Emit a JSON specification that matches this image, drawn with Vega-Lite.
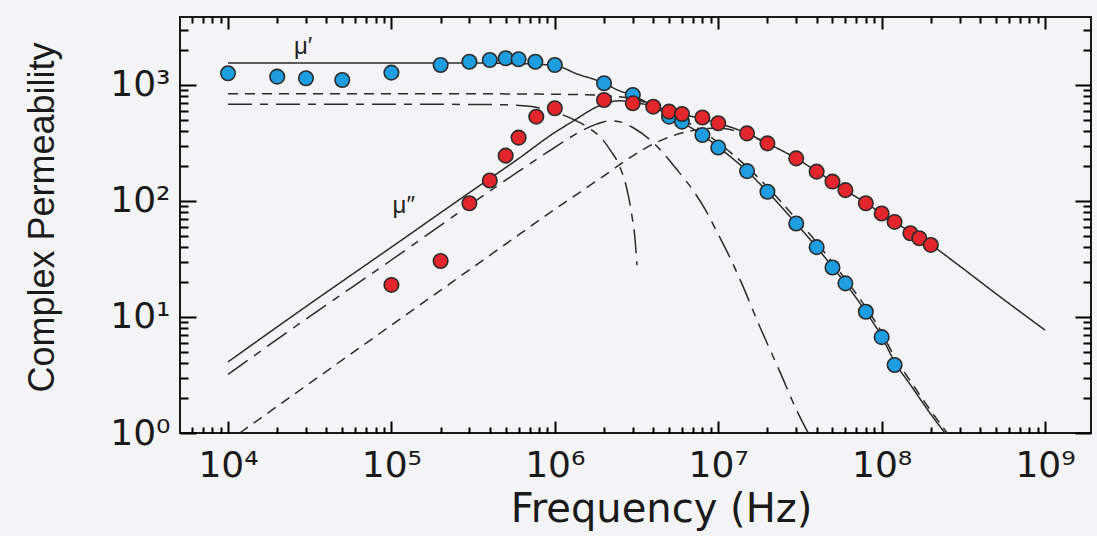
{
  "$schema": "https://vega.github.io/schema/vega-lite/v6.json",
  "width": 911,
  "height": 416,
  "autosize": {"type": "none"},
  "padding": {"left": 180, "top": 17, "right": 6, "bottom": 103},
  "background": "#f4f4f6",
  "config": {
    "view": {"stroke": "#1a1a1a", "strokeWidth": 2}
  },
  "datasets": {
    "curves": [
      {"s": "m1t", "f": 1e4, "v": 1550}, {"s": "m1t", "f": 3e4, "v": 1550}, {"s": "m1t", "f": 1e5, "v": 1550},
      {"s": "m1t", "f": 3e5, "v": 1548}, {"s": "m1t", "f": 6e5, "v": 1530}, {"s": "m1t", "f": 1e6, "v": 1470},
      {"s": "m1t", "f": 1.4e6, "v": 1230}, {"s": "m1t", "f": 1.8e6, "v": 1100}, {"s": "m1t", "f": 2e6, "v": 1035},
      {"s": "m1t", "f": 2.4e6, "v": 910}, {"s": "m1t", "f": 3e6, "v": 810}, {"s": "m1t", "f": 4e6, "v": 660},
      {"s": "m1t", "f": 5e6, "v": 545}, {"s": "m1t", "f": 6e6, "v": 475}, {"s": "m1t", "f": 8e6, "v": 370},
      {"s": "m1t", "f": 1e7, "v": 292}, {"s": "m1t", "f": 1.5e7, "v": 181}, {"s": "m1t", "f": 2e7, "v": 120},
      {"s": "m1t", "f": 3e7, "v": 64}, {"s": "m1t", "f": 4e7, "v": 40}, {"s": "m1t", "f": 5e7, "v": 27},
      {"s": "m1t", "f": 6e7, "v": 19.5}, {"s": "m1t", "f": 8e7, "v": 11.1}, {"s": "m1t", "f": 1e8, "v": 6.8},
      {"s": "m1t", "f": 1.2e8, "v": 4.1}, {"s": "m1t", "f": 1.5e8, "v": 2.6}, {"s": "m1t", "f": 2e8, "v": 1.45},
      {"s": "m1t", "f": 2.44e8, "v": 1.0},

      {"s": "m1s", "f": 1e4, "v": 840}, {"s": "m1s", "f": 1e5, "v": 840}, {"s": "m1s", "f": 5e5, "v": 838},
      {"s": "m1s", "f": 1e6, "v": 832}, {"s": "m1s", "f": 1.5e6, "v": 825}, {"s": "m1s", "f": 2e6, "v": 810},
      {"s": "m1s", "f": 2.5e6, "v": 790}, {"s": "m1s", "f": 3e6, "v": 765}, {"s": "m1s", "f": 3.5e6, "v": 715},
      {"s": "m1s", "f": 4e6, "v": 665}, {"s": "m1s", "f": 5e6, "v": 575}, {"s": "m1s", "f": 6e6, "v": 505},
      {"s": "m1s", "f": 8e6, "v": 400}, {"s": "m1s", "f": 1e7, "v": 318}, {"s": "m1s", "f": 1.5e7, "v": 197},
      {"s": "m1s", "f": 2e7, "v": 132}, {"s": "m1s", "f": 3e7, "v": 70}, {"s": "m1s", "f": 4e7, "v": 44},
      {"s": "m1s", "f": 5e7, "v": 29.5}, {"s": "m1s", "f": 6e7, "v": 21.2}, {"s": "m1s", "f": 8e7, "v": 12.1},
      {"s": "m1s", "f": 1e8, "v": 7.4}, {"s": "m1s", "f": 1.2e8, "v": 4.5}, {"s": "m1s", "f": 1.5e8, "v": 2.8},
      {"s": "m1s", "f": 2e8, "v": 1.55}, {"s": "m1s", "f": 2.52e8, "v": 1.0},

      {"s": "m1d", "f": 1e4, "v": 682}, {"s": "m1d", "f": 1e5, "v": 682}, {"s": "m1d", "f": 3e5, "v": 680},
      {"s": "m1d", "f": 5e5, "v": 674}, {"s": "m1d", "f": 7e5, "v": 655}, {"s": "m1d", "f": 9e5, "v": 610},
      {"s": "m1d", "f": 1.24e6, "v": 520}, {"s": "m1d", "f": 1.6e6, "v": 430}, {"s": "m1d", "f": 1.97e6, "v": 336},
      {"s": "m1d", "f": 2.2e6, "v": 270}, {"s": "m1d", "f": 2.45e6, "v": 210}, {"s": "m1d", "f": 2.77e6, "v": 124},
      {"s": "m1d", "f": 2.97e6, "v": 73}, {"s": "m1d", "f": 3.1e6, "v": 46}, {"s": "m1d", "f": 3.18e6, "v": 28},

      {"s": "m2t", "f": 1e4, "v": 4.1}, {"s": "m2t", "f": 3e4, "v": 12.3}, {"s": "m2t", "f": 1e5, "v": 40},
      {"s": "m2t", "f": 3e5, "v": 118}, {"s": "m2t", "f": 6e5, "v": 232}, {"s": "m2t", "f": 1e6, "v": 390},
      {"s": "m2t", "f": 1.3e6, "v": 490}, {"s": "m2t", "f": 1.7e6, "v": 620}, {"s": "m2t", "f": 2.1e6, "v": 705},
      {"s": "m2t", "f": 2.5e6, "v": 730}, {"s": "m2t", "f": 3e6, "v": 712}, {"s": "m2t", "f": 4e6, "v": 655},
      {"s": "m2t", "f": 5e6, "v": 600}, {"s": "m2t", "f": 6e6, "v": 560}, {"s": "m2t", "f": 8e6, "v": 510},
      {"s": "m2t", "f": 1e7, "v": 468}, {"s": "m2t", "f": 1.5e7, "v": 383}, {"s": "m2t", "f": 2e7, "v": 314},
      {"s": "m2t", "f": 3e7, "v": 233}, {"s": "m2t", "f": 4e7, "v": 180}, {"s": "m2t", "f": 5e7, "v": 147},
      {"s": "m2t", "f": 6e7, "v": 124}, {"s": "m2t", "f": 8e7, "v": 96}, {"s": "m2t", "f": 1e8, "v": 78},
      {"s": "m2t", "f": 1.5e8, "v": 54}, {"s": "m2t", "f": 2e8, "v": 42}, {"s": "m2t", "f": 3e8, "v": 27.5},
      {"s": "m2t", "f": 5e8, "v": 15.9}, {"s": "m2t", "f": 1e9, "v": 7.7},

      {"s": "m2d", "f": 1e4, "v": 3.2}, {"s": "m2d", "f": 3e4, "v": 9.6}, {"s": "m2d", "f": 1e5, "v": 31},
      {"s": "m2d", "f": 3e5, "v": 92}, {"s": "m2d", "f": 6e5, "v": 180}, {"s": "m2d", "f": 1e6, "v": 290},
      {"s": "m2d", "f": 1.4e6, "v": 390}, {"s": "m2d", "f": 1.8e6, "v": 460}, {"s": "m2d", "f": 2.2e6, "v": 490},
      {"s": "m2d", "f": 2.6e6, "v": 475}, {"s": "m2d", "f": 3e6, "v": 430}, {"s": "m2d", "f": 3.8e6, "v": 340},
      {"s": "m2d", "f": 4.6e6, "v": 259}, {"s": "m2d", "f": 5.7e6, "v": 180}, {"s": "m2d", "f": 7e6, "v": 124},
      {"s": "m2d", "f": 8.3e6, "v": 85}, {"s": "m2d", "f": 9.7e6, "v": 56}, {"s": "m2d", "f": 1.15e7, "v": 35},
      {"s": "m2d", "f": 1.36e7, "v": 21}, {"s": "m2d", "f": 1.8e7, "v": 8.2}, {"s": "m2d", "f": 2.4e7, "v": 3.3},
      {"s": "m2d", "f": 3e7, "v": 1.6}, {"s": "m2d", "f": 3.55e7, "v": 1.0},

      {"s": "m2s", "f": 1.18e4, "v": 1.0}, {"s": "m2s", "f": 3e4, "v": 2.55}, {"s": "m2s", "f": 1e5, "v": 8.5},
      {"s": "m2s", "f": 3e5, "v": 25.5}, {"s": "m2s", "f": 6e5, "v": 51}, {"s": "m2s", "f": 1e6, "v": 85},
      {"s": "m2s", "f": 1.5e6, "v": 125}, {"s": "m2s", "f": 2e6, "v": 165}, {"s": "m2s", "f": 3e6, "v": 245},
      {"s": "m2s", "f": 4e6, "v": 310}, {"s": "m2s", "f": 5e6, "v": 355}, {"s": "m2s", "f": 6.4e6, "v": 395},
      {"s": "m2s", "f": 8e6, "v": 418}, {"s": "m2s", "f": 1e7, "v": 425}, {"s": "m2s", "f": 1.3e7, "v": 400},
      {"s": "m2s", "f": 1.6e7, "v": 362}, {"s": "m2s", "f": 2e7, "v": 308}
    ],
    "pts": [
      {"p": "mu1", "f": 1e4, "v": 1262}, {"p": "mu1", "f": 2e4, "v": 1180}, {"p": "mu1", "f": 3e4, "v": 1143},
      {"p": "mu1", "f": 5e4, "v": 1105}, {"p": "mu1", "f": 1e5, "v": 1277}, {"p": "mu1", "f": 2e5, "v": 1487},
      {"p": "mu1", "f": 3e5, "v": 1585}, {"p": "mu1", "f": 4e5, "v": 1644}, {"p": "mu1", "f": 5e5, "v": 1700},
      {"p": "mu1", "f": 6e5, "v": 1667}, {"p": "mu1", "f": 7.6e5, "v": 1585}, {"p": "mu1", "f": 1e6, "v": 1487},
      {"p": "mu1", "f": 2e6, "v": 1035}, {"p": "mu1", "f": 3e6, "v": 820}, {"p": "mu1", "f": 5e6, "v": 533},
      {"p": "mu1", "f": 6e6, "v": 483}, {"p": "mu1", "f": 8e6, "v": 371}, {"p": "mu1", "f": 1e7, "v": 289},
      {"p": "mu1", "f": 1.5e7, "v": 181}, {"p": "mu1", "f": 2e7, "v": 120}, {"p": "mu1", "f": 3e7, "v": 64},
      {"p": "mu1", "f": 4e7, "v": 40}, {"p": "mu1", "f": 5e7, "v": 26.7}, {"p": "mu1", "f": 6e7, "v": 19.5},
      {"p": "mu1", "f": 8e7, "v": 11.1}, {"p": "mu1", "f": 1e8, "v": 6.7}, {"p": "mu1", "f": 1.2e8, "v": 3.86},
      {"p": "mu2", "f": 1e5, "v": 18.9}, {"p": "mu2", "f": 2e5, "v": 30.4}, {"p": "mu2", "f": 3e5, "v": 95.5},
      {"p": "mu2", "f": 4e5, "v": 150}, {"p": "mu2", "f": 5e5, "v": 246}, {"p": "mu2", "f": 6e5, "v": 352},
      {"p": "mu2", "f": 7.7e5, "v": 533}, {"p": "mu2", "f": 1e6, "v": 630}, {"p": "mu2", "f": 2e6, "v": 743},
      {"p": "mu2", "f": 3e6, "v": 695}, {"p": "mu2", "f": 4e6, "v": 650}, {"p": "mu2", "f": 5e6, "v": 589},
      {"p": "mu2", "f": 6e6, "v": 562}, {"p": "mu2", "f": 8e6, "v": 525}, {"p": "mu2", "f": 1e7, "v": 468},
      {"p": "mu2", "f": 1.5e7, "v": 383}, {"p": "mu2", "f": 2e7, "v": 314}, {"p": "mu2", "f": 3e7, "v": 233},
      {"p": "mu2", "f": 4e7, "v": 179}, {"p": "mu2", "f": 5e7, "v": 147}, {"p": "mu2", "f": 6e7, "v": 124},
      {"p": "mu2", "f": 8e7, "v": 95.5}, {"p": "mu2", "f": 1e8, "v": 78}, {"p": "mu2", "f": 1.2e8, "v": 66},
      {"p": "mu2", "f": 1.5e8, "v": 52.7}, {"p": "mu2", "f": 1.7e8, "v": 47.7}, {"p": "mu2", "f": 2e8, "v": 41.8}
    ],
    "labels": [
      {"f": 2.88e4, "v": 2128, "t": "μ′"},
      {"f": 1.19e5, "v": 90.5, "t": "μ″"}
    ]
  },
  "layer": [
    {
      "data": {"name": "curves"},
      "mark": {"type": "line", "strokeWidth": 1.5, "color": "#2a2a2a", "interpolate": "monotone", "clip": true},
      "encoding": {
        "x": {
          "field": "f", "type": "quantitative",
          "scale": {"type": "log", "domain": [5084, 1.91e9], "nice": false},
          "axis": {
            "orient": "bottom", "offset": -12,
            "values": [10000, 100000, 1000000, 10000000, 100000000, 1000000000],
            "labelExpr": "'10' + ['⁰','¹','²','³','⁴','⁵','⁶','⁷','⁸','⁹'][round(log(datum.value)/LN10)]",
            "ticks": true, "tickSize": 12, "tickOpacity": 1,
            "tickColor": "black", "tickWidth": 2, "domain": false, "grid": false,
            "labelFont": "DejaVu Sans", "labelFontSize": 36, "labelColor": "#1a1a1a", "labelPadding": 15,
            "labelFlush": false, "labelOverlap": false,
            "title": "Frequency (Hz)", "titleFont": "DejaVu Sans", "titleFontSize": 40, "titleFontWeight": "normal",
            "titleColor": "#1a1a1a", "titlePadding": 6, "titleX": 481
          }
        },
        "y": {
          "field": "v", "type": "quantitative",
          "scale": {"type": "log", "domain": [1, 3855], "nice": false},
          "axis": {
            "orient": "left", "offset": -16,
            "values": [1, 10, 100, 1000],
            "labelExpr": "'10' + ['⁰','¹','²','³','⁴','⁵','⁶','⁷','⁸','⁹'][round(log(datum.value)/LN10)]",
            "ticks": true, "tickSize": 16, "tickOpacity": 1,
            "tickColor": "black", "tickWidth": 2, "domain": false, "grid": false,
            "labelFont": "DejaVu Sans", "labelFontSize": 36, "labelColor": "#1a1a1a", "labelPadding": 10,
            "labelFlush": false, "labelOverlap": false,
            "title": "Complex Permeability", "titleFont": "Liberation Sans", "titleFontSize": 36, "titleFontWeight": "normal",
            "titleColor": "#1a1a1a", "titlePadding": 48, "titleY": 200
          }
        },
        "strokeDash": {
          "field": "s", "type": "nominal",
          "scale": {"domain": ["m1t", "m1s", "m1d", "m2t", "m2d", "m2s"], "range": [[1, 0], [10, 7], [24, 8, 8, 8], [1, 0], [24, 8, 8, 8], [10, 7]]},
          "legend": null
        }
      }
    },
    {
      "data": {"name": "pts"},
      "mark": {"type": "point", "filled": true, "size": 210, "stroke": "#2b2b2b", "strokeWidth": 1.6, "opacity": 1},
      "encoding": {
        "x": {"field": "f", "type": "quantitative", "axis": null},
        "y": {"field": "v", "type": "quantitative", "axis": null},
        "fill": {"field": "p", "type": "nominal", "scale": {"domain": ["mu1", "mu2"], "range": ["#1e9ee0", "#e3262b"]}, "legend": null}
      }
    },
    {
      "data": {"name": "labels"},
      "mark": {"type": "text", "font": "Liberation Sans", "fontSize": 24, "color": "#222222"},
      "encoding": {
        "x": {"field": "f", "type": "quantitative", "axis": null},
        "y": {"field": "v", "type": "quantitative", "axis": null},
        "text": {"field": "t"}
      }
    },
    {
      "data": {"name": "pts"},
      "mark": {"type": "point", "opacity": 0},
      "encoding": {
        "x": {
          "field": "f", "type": "quantitative",
          "axis": {
            "orient": "top", "offset": -12,
            "values": [10000, 100000, 1000000, 10000000, 100000000, 1000000000],
            "labels": false, "title": null, "domain": false, "grid": false,
            "ticks": true, "tickSize": 12, "tickColor": "black", "tickWidth": 2, "tickOpacity": 1
          }
        },
        "y": {
          "field": "v", "type": "quantitative",
          "axis": {
            "orient": "right", "offset": -16,
            "values": [1, 10, 100, 1000],
            "labels": false, "title": null, "domain": false, "grid": false,
            "ticks": true, "tickSize": 16, "tickColor": "black", "tickWidth": 2, "tickOpacity": 1
          }
        }
      }
    },
    {
      "data": {"name": "pts"},
      "mark": {"type": "point", "opacity": 0},
      "encoding": {
        "x": {
          "field": "f", "type": "quantitative",
          "axis": {
            "orient": "bottom", "offset": -6,
            "values": [6000, 7000, 8000, 9000, 20000, 30000, 40000, 50000, 60000, 70000, 80000, 90000, 200000, 300000, 400000, 500000, 600000, 700000, 800000, 900000, 2000000, 3000000, 4000000, 5000000, 6000000, 7000000, 8000000, 9000000, 20000000, 30000000, 40000000, 50000000, 60000000, 70000000, 80000000, 90000000, 200000000, 300000000, 400000000, 500000000, 600000000, 700000000, 800000000, 900000000],
            "labels": false, "title": null, "domain": false, "grid": false,
            "ticks": true, "tickSize": 6, "tickColor": "black", "tickWidth": 2, "tickOpacity": 1
          }
        },
        "y": {
          "field": "v", "type": "quantitative",
          "axis": {
            "orient": "left", "offset": -8,
            "values": [2, 3, 4, 5, 6, 7, 8, 9, 20, 30, 40, 50, 60, 70, 80, 90, 200, 300, 400, 500, 600, 700, 800, 900, 2000, 3000],
            "labels": false, "title": null, "domain": false, "grid": false,
            "ticks": true, "tickSize": 8, "tickColor": "black", "tickWidth": 2, "tickOpacity": 1
          }
        }
      }
    },
    {
      "data": {"name": "pts"},
      "mark": {"type": "point", "opacity": 0},
      "encoding": {
        "x": {
          "field": "f", "type": "quantitative",
          "axis": {
            "orient": "top", "offset": -6,
            "values": [6000, 7000, 8000, 9000, 20000, 30000, 40000, 50000, 60000, 70000, 80000, 90000, 200000, 300000, 400000, 500000, 600000, 700000, 800000, 900000, 2000000, 3000000, 4000000, 5000000, 6000000, 7000000, 8000000, 9000000, 20000000, 30000000, 40000000, 50000000, 60000000, 70000000, 80000000, 90000000, 200000000, 300000000, 400000000, 500000000, 600000000, 700000000, 800000000, 900000000],
            "labels": false, "title": null, "domain": false, "grid": false,
            "ticks": true, "tickSize": 6, "tickColor": "black", "tickWidth": 2, "tickOpacity": 1
          }
        },
        "y": {
          "field": "v", "type": "quantitative",
          "axis": {
            "orient": "right", "offset": -8,
            "values": [2, 3, 4, 5, 6, 7, 8, 9, 20, 30, 40, 50, 60, 70, 80, 90, 200, 300, 400, 500, 600, 700, 800, 900, 2000, 3000],
            "labels": false, "title": null, "domain": false, "grid": false,
            "ticks": true, "tickSize": 8, "tickColor": "black", "tickWidth": 2, "tickOpacity": 1
          }
        }
      }
    }
  ],
  "resolve": {"axis": {"x": "independent", "y": "independent"}}
}
